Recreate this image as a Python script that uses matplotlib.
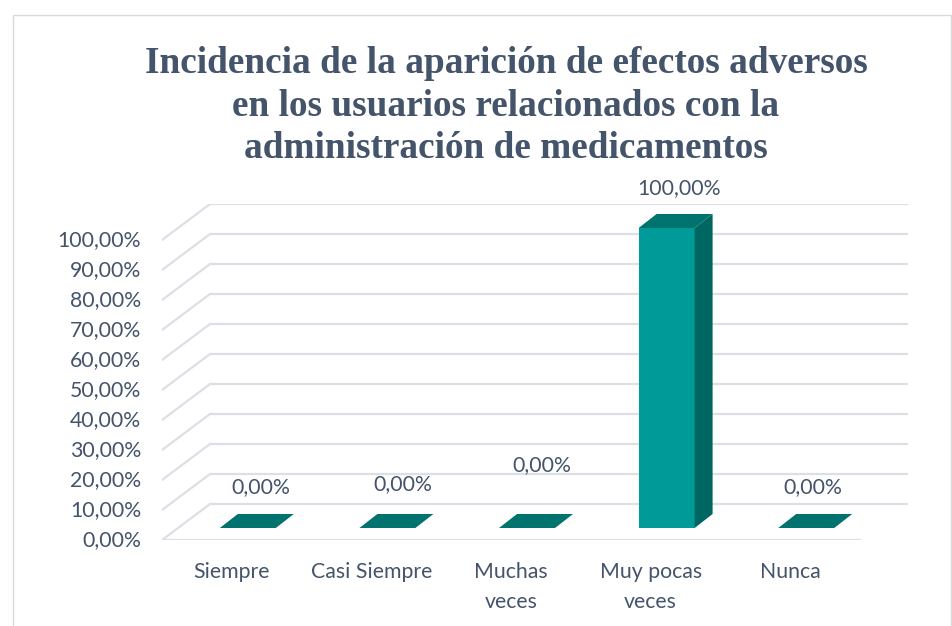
import matplotlib
matplotlib.use("Agg")
import matplotlib.pyplot as plt
from matplotlib.patches import Polygon, Rectangle

categories = ["Siempre", "Casi Siempre", "Muchas\nveces", "Muy pocas\nveces", "Nunca"]
values = [0.0, 0.0, 0.0, 100.0, 0.0]
value_labels = ["0,00%", "0,00%", "0,00%", "100,00%", "0,00%"]
tick_values = [0, 10, 20, 30, 40, 50, 60, 70, 80, 90, 100]
tick_labels = ["0,00%", "10,00%", "20,00%", "30,00%", "40,00%", "50,00%",
               "60,00%", "70,00%", "80,00%", "90,00%", "100,00%"]
title = ("Incidencia de la aparición de efectos adversos\n"
         "en los usuarios relacionados con la\n"
         "administración de medicamentos")

# style
W, H = 953, 626
TXT = "#44546A"
GRID = "#DCDFE6"
FRONT = "#009B98"
SIDE = "#006662"
TOP = "#00736F"
FONT = "Lato"
FS = 15.3

fig = plt.figure(figsize=(W / 100, H / 100), dpi=100)
fig.patch.set_facecolor("white")

# axes region in pixels (front-left bottom to back-right top)
px_left, px_right, px_bottom, px_top = 162, 908, 540, 204
ax = fig.add_axes([px_left / W, 1 - px_bottom / H,
                   (px_right - px_left) / W, (px_bottom - px_top) / H])
ax.set_axis_off()

n = len(categories)
x_px = 139.6          # pixels per category
y_px = 3.0            # pixels per percent
dxw = 48 / x_px       # wall depth offset
dyw = 36 / y_px
ax.set_xlim(-0.5, n - 0.5 + dxw)
ax.set_ylim(0, 100 + dyw)

# grid (back wall + left side diagonals)
for v in tick_values:
    ax.plot([-0.5 + dxw, n - 0.5 + dxw], [v + dyw, v + dyw], color=GRID, lw=1.6,
            solid_capstyle="butt", zorder=1)
    ax.plot([-0.5, -0.5 + dxw], [v, v + dyw], color=GRID, lw=1.6, zorder=1)
ax.plot([-0.5, n - 0.5], [0, 0], color=GRID, lw=1.6, zorder=1)

# bars
bw = 56 / x_px
bx = 16 / x_px
by = 12 / y_px
ddx = 18 / x_px
ddy = 14 / y_px
for i, v in enumerate(values):
    x0 = i + bx - bw / 2
    x1 = i + bx + bw / 2
    y0 = by
    y1 = by + v
    if v > 0:
        ax.add_patch(Rectangle((x0, y0), bw, v, facecolor=FRONT, edgecolor="none", zorder=3))
        ax.add_patch(Polygon([(x1, y0), (x1 + ddx, y0 + ddy), (x1 + ddx, y1 + ddy), (x1, y1)],
                             closed=True, facecolor=SIDE, edgecolor="none", zorder=3))
    ax.add_patch(Polygon([(x0, y1), (x1, y1), (x1 + ddx, y1 + ddy), (x0 + ddx, y1 + ddy)],
                         closed=True, facecolor=TOP, edgecolor="none", zorder=4))

# data labels (pixel offsets from bar top)
lab_dx = [13, 15, 15, 12, 7]
lab_dy = [41, 44, 63, 40, 41]
for i, (v, t) in enumerate(zip(values, value_labels)):
    ax.annotate(t, xy=(i + bx, by + v), xytext=(lab_dx[i] * 0.72, lab_dy[i] * 0.72),
                textcoords="offset points", ha="center", va="center",
                fontsize=FS, color=TXT, family=FONT, zorder=5)

# y tick labels
for v, t in zip(tick_values, tick_labels):
    ax.annotate(t, xy=(-0.5, v), xytext=(-21 * 0.72, 0), textcoords="offset points",
                ha="right", va="center", fontsize=FS, color=TXT, family=FONT)

# category labels
for i, c in enumerate(categories):
    ax.annotate(c, xy=(i, 0), xytext=(0, -22 * 0.72), textcoords="offset points",
                ha="center", va="top", fontsize=FS, color=TXT, family=FONT,
                linespacing=1.6)

# title
fig.text(506 / W, 1 - 106 / H, title, ha="center", va="center", fontsize=26.8,
         fontweight="bold", color=TXT, family="Liberation Serif", linespacing=1.26)

# chart border
fig.patches.append(Rectangle((13 / W, -0.01), (951 - 13) / W, 1 - 15 / H + 0.01,
                             transform=fig.transFigure, fill=False,
                             edgecolor="#D9D9D9", lw=1.0))

fig.savefig("out.png", dpi=100, facecolor="white")
